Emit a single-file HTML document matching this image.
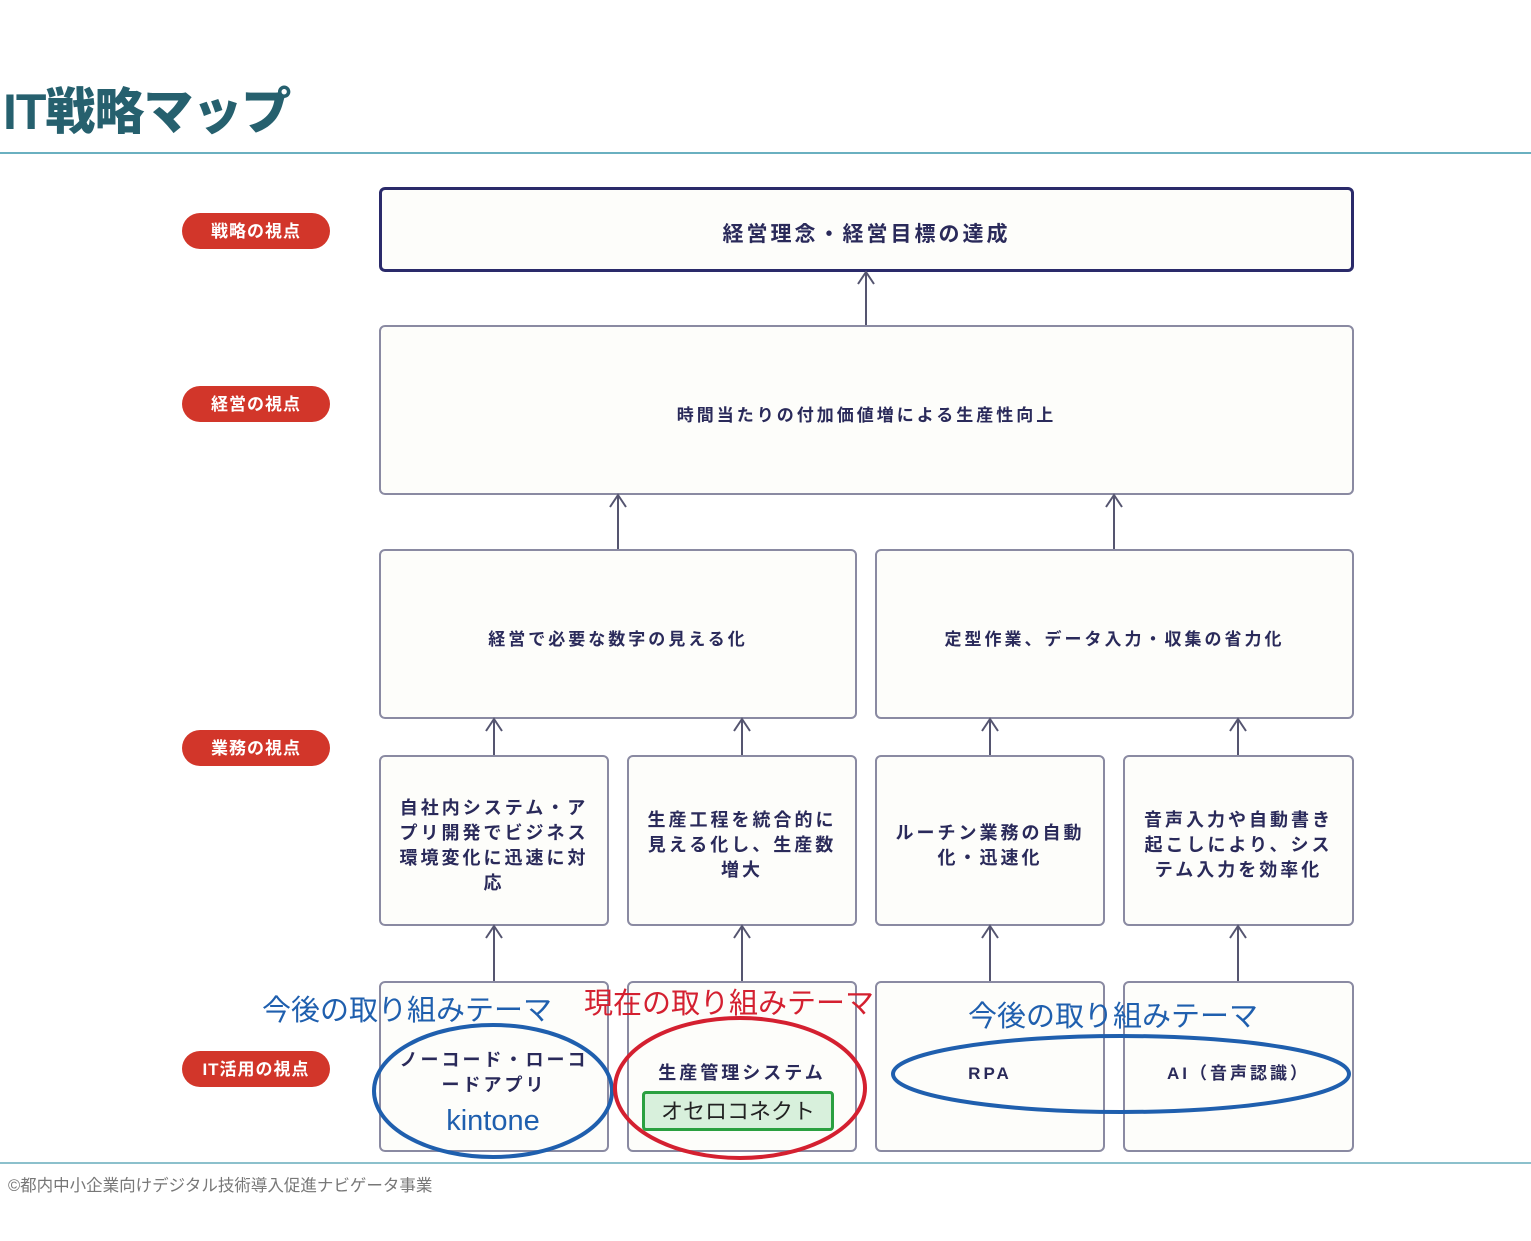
<!DOCTYPE html>
<html><head><meta charset="utf-8"><style>
body{margin:0;width:1531px;height:1241px;background:#fff;position:relative;overflow:hidden;font-family:"Liberation Sans","Noto Sans CJK JP",sans-serif}
.a{position:absolute}
.pill{position:absolute;left:182px;width:148px;height:36px;border-radius:18px;background:#d2362a;color:#fff;font-weight:bold;font-size:17px;text-align:center;line-height:38px;letter-spacing:1px}
.box{position:absolute;border:2px solid #8a8aa2;border-radius:6px;background:#fdfdfa;box-sizing:border-box;display:flex;align-items:center;justify-content:center;text-align:center;color:#2a2a5a;font-weight:bold;font-size:18px;letter-spacing:3px;line-height:25px;padding:10px 14px 0}
.t{position:absolute;font-size:29px;white-space:nowrap}
</style></head><body>
<div class="a" style="left:3px;top:72px;font-size:50px;font-weight:900;color:#26606e;letter-spacing:-1px">IT戦略マップ</div>
<div class="a" style="left:0;top:152px;width:1531px;height:2px;background:#6ab0c0"></div>

<div class="pill" style="top:213px">戦略の視点</div>
<div class="pill" style="top:386px">経営の視点</div>
<div class="pill" style="top:730px">業務の視点</div>
<div class="pill" style="top:1051px">IT活用の視点</div>

<div class="box" style="left:379px;top:187px;width:975px;height:85px;border:3px solid #2a2a6a;font-size:21px">経営理念・経営目標の達成</div>
<div class="box" style="left:379px;top:325px;width:975px;height:170px;font-size:17px">時間当たりの付加価値増による生産性向上</div>
<div class="box" style="left:379px;top:549px;width:478px;height:170px;font-size:17px">経営で必要な数字の見える化</div>
<div class="box" style="left:875px;top:549px;width:479px;height:170px;font-size:17px">定型作業、データ入力・収集の省力化</div>

<div class="box" style="left:379px;top:755px;width:230px;height:171px">自社内システム・アプリ開発でビジネス環境変化に迅速に対応</div>
<div class="box" style="left:627px;top:755px;width:230px;height:171px">生産工程を統合的に見える化し、生産数増大</div>
<div class="box" style="left:875px;top:755px;width:230px;height:171px">ルーチン業務の自動化・迅速化</div>
<div class="box" style="left:1123px;top:755px;width:231px;height:171px">音声入力や自動書き起こしにより、システム入力を効率化</div>

<div class="box" style="left:379px;top:981px;width:230px;height:171px;align-items:flex-start;padding-top:65px">ノーコード・ローコードアプリ</div>
<div class="box" style="left:627px;top:981px;width:230px;height:171px;align-items:flex-start;padding-top:78px">生産管理システム</div>
<div class="box" style="left:875px;top:981px;width:230px;height:171px;font-size:17px;align-items:flex-start;padding-top:78px">RPA</div>
<div class="box" style="left:1123px;top:981px;width:231px;height:171px;font-size:17px;align-items:flex-start;padding-top:78px">AI（音声認識）</div>

<svg class="a" style="left:0;top:0" width="1531" height="1241">
<g stroke="#555570" stroke-width="2" fill="none">
<path d="M866 325V272M858 284l8-12 8 12"/>
<path d="M618 549V495M610 507l8-12 8 12"/>
<path d="M1114 549V495M1106 507l8-12 8 12"/>
<path d="M494 755V719M486 731l8-12 8 12"/>
<path d="M742 755V719M734 731l8-12 8 12"/>
<path d="M990 755V719M982 731l8-12 8 12"/>
<path d="M1238 755V719M1230 731l8-12 8 12"/>
<path d="M494 981V926M486 938l8-12 8 12"/>
<path d="M742 981V926M734 938l8-12 8 12"/>
<path d="M990 981V926M982 938l8-12 8 12"/>
<path d="M1238 981V926M1230 938l8-12 8 12"/>
</g>
<ellipse cx="493" cy="1091" rx="119" ry="66" fill="none" stroke="#1f5fae" stroke-width="4"/>
<ellipse cx="740" cy="1088" rx="125" ry="70" fill="none" stroke="#d42030" stroke-width="4"/>
<ellipse cx="1121" cy="1074" rx="228" ry="38" fill="none" stroke="#1f5fae" stroke-width="4"/>
</svg>
<div class="a" style="left:642px;top:1091px;width:192px;height:40px;box-sizing:border-box;border:3px solid #2aa040;border-radius:4px;background:#d8f0dc;text-align:center;line-height:36px;font-size:22px;color:#222">オセロコネクト</div>
<div class="a" style="left:380px;top:1105px;width:226px;text-align:center;font-size:29px;color:#1f5fae">kintone</div>

<div class="t" style="left:262px;top:987px;color:#1f5fae">今後の取り組みテーマ</div>
<div class="t" style="left:584px;top:980px;color:#d42030">現在の取り組みテーマ</div>
<div class="t" style="left:968px;top:993px;color:#1f5fae">今後の取り組みテーマ</div>

<div class="a" style="left:0;top:1162px;width:1531px;height:2px;background:#8cc0cc"></div>
<div class="a" style="left:8px;top:1172px;font-size:16.5px;color:#777">©都内中小企業向けデジタル技術導入促進ナビゲータ事業</div>
</body></html>
